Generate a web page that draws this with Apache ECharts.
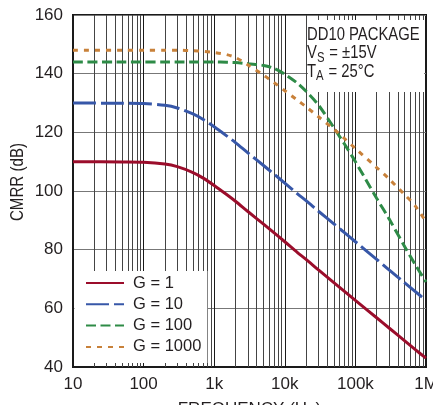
<!DOCTYPE html>
<html>
<head>
<meta charset="utf-8">
<script src="https://cdn.jsdelivr.net/npm/echarts@6/dist/echarts.min.js"></script>
<style>
html,body{margin:0;padding:0;background:#fff;}
#chart{width:433px;height:405px;}
</style>
</head>
<body>
<div id="chart"></div>
<script>
// ---- data ----
const freq = [10, 50, 100, 200, 300, 500, 700, 1000, 1500, 2000, 3000, 5000, 7000, 10000, 15000, 20000, 30000, 50000, 70000, 100000, 200000, 300000, 500000, 700000, 1000000];
const g1 =    [110, 109.9, 109.8, 109.2, 108.3, 106.3, 104.4, 101.9, 98.8, 96.5, 93.0, 88.7, 85.8, 82.7, 79.1, 76.7, 73.1, 68.7, 65.8, 62.7, 56.8, 53.3, 48.9, 46.0, 43.0];
const g10 =   [130, 129.9, 129.8, 129.2, 128.3, 126.3, 124.4, 121.9, 118.8, 116.5, 113.0, 108.7, 105.8, 102.7, 99.1, 96.7, 93.1, 88.7, 85.8, 82.7, 76.7, 73.1, 68.7, 65.8, 62.7];
const g100 =  [144, 144, 144, 144, 144, 144, 144, 144, 143.9, 143.8, 143.4, 142.8, 141.8, 139.8, 136.8, 134.0, 129.3, 121.4, 116.0, 110.0, 97.5, 90.5, 81.0, 75.0, 69.0];
const g1000 = [148, 148, 148, 148, 148, 147.8, 147.6, 147.2, 146.5, 145.5, 143.0, 139.5, 137.0, 134.2, 131.0, 128.7, 125.3, 121.0, 117.9, 114.5, 108.0, 104.1, 98.7, 95.0, 89.5];
const seriesNames = ['G = 1', 'G = 10', 'G = 100', 'G = 1000'];
const xTickLabels = ['10', '100', '1k', '10k', '100k', '1M'];
const yMin = 40, yMax = 160, yStep = 20;

// minor (2..9 per decade) vertical gridline positions
const minorGrid = [];
for (let e = 1; e < 6; e++) for (let d = 2; d <= 9; d++) minorGrid.push(d * Math.pow(10, e));

const FONT = "'Liberation Sans', Arial, sans-serif";
const TXT = '#231f20';
const colors = ['#9b0d2b', '#3757a8', '#2e8b47', '#c8813a'];
const dashes = ['solid', [23, 5], [10, 4.5], [5, 6]];
const vals = [g1, g10, g100, g1000];

const chart = echarts.init(document.getElementById('chart'), null, {renderer: 'canvas'});

const series = vals.map((v, i) => ({
  name: seriesNames[i],
  type: 'line',
  data: freq.map((f, k) => [f, v[k]]),
  smooth: 0.3,
  showSymbol: false,
  symbol: 'none',
  color: colors[i],
  lineStyle: {color: colors[i], width: 3, type: dashes[i], cap: 'butt'},
  z: 3 + i * 0.01,
  animation: false
}));
series[0].markLine = {
  silent: true,
  symbol: 'none',
  z: 1,
  animation: false,
  label: {show: false},
  emphasis: {disabled: true},
  lineStyle: {color: '#444', width: 1, type: 'solid'},
  data: minorGrid.map(v => ({xAxis: v}))
};

const subRich = {
  n: {fontFamily: FONT, fontSize: 19, lineHeight: 19, fill: TXT, color: TXT},
  s: {fontFamily: FONT, fontSize: 14.5, lineHeight: 10, padding: [9, 1, 0, 0], fill: TXT, color: TXT}
};

chart.setOption({
  animation: false,
  backgroundColor: '#fff',
  grid: {left: 73, right: 7, top: 15, bottom: 38, show: true, borderColor: '#1a1a1a', borderWidth: 2, outerBoundsMode: 'none', containLabel: false},
  xAxis: {
    type: 'log', logBase: 10, min: 10, max: 1000000,
    name: 'FREQUENCY (Hz)', nameLocation: 'middle', nameGap: 34,
    nameTextStyle: {fontFamily: FONT, fontSize: 17, color: TXT},
    axisLine: {show: true, lineStyle: {color: '#1a1a1a', width: 2}},
    axisTick: {show: false},
    axisLabel: {
      fontFamily: FONT, fontSize: 17, color: TXT, margin: 9, showMaxLabel: true, showMinLabel: true,
      formatter: v => xTickLabels[Math.round(Math.log10(v)) - 1]
    },
    splitLine: {show: true, lineStyle: {color: '#1a1a1a', width: 1}},
    minorTick: {show: false}
  },
  yAxis: {
    type: 'value', min: yMin, max: yMax, interval: yStep,
    axisLine: {show: true, lineStyle: {color: '#1a1a1a', width: 2}},
    axisTick: {show: false},
    axisLabel: {fontFamily: FONT, fontSize: 17, color: TXT, margin: 10},
    splitLine: {show: true, lineStyle: {color: '#777', width: 1}}
  },
  legend: {
    orient: 'vertical', left: 74.5, top: 271,
    backgroundColor: '#fff',
    padding: [3, 6, 7, 10.5],
    itemWidth: 38, itemHeight: 14, itemGap: 3.3,
    itemStyle: {opacity: 0, color: 'rgba(0,0,0,0)', borderWidth: 0, borderColor: 'rgba(0,0,0,0)'},
    textStyle: {fontFamily: FONT, fontSize: 16.5, color: TXT, lineHeight: 18, padding: [0, 0, 0, 4]},
    data: seriesNames,
    z: 6
  },
  graphic: [
    {type: 'rect', z: 10, silent: true, shape: {x: 308, y: 20, width: 116, height: 72}, style: {fill: '#fff'}},
    {type: 'text', z: 11, silent: true, x: 307, y: 25.2, scaleX: 0.78,
      style: {text: 'DD10 PACKAGE', fill: TXT, fontSize: 19, fontFamily: FONT, lineHeight: 19, verticalAlign: 'top', align: 'left'}},
    {type: 'text', z: 11, silent: true, x: 307, y: 43.5, scaleX: 0.78,
      style: {text: '{n|V}{s|S}{n| = ±15V}', fill: TXT, verticalAlign: 'top', align: 'left', rich: subRich}},
    {type: 'text', z: 11, silent: true, x: 307, y: 61.8, scaleX: 0.78,
      style: {text: '{n|T}{s|A}{n| = 25°C}', fill: TXT, verticalAlign: 'top', align: 'left', rich: subRich}},
    {type: 'text', z: 11, silent: true, x: 18.5, y: 182, rotation: Math.PI / 2, scaleX: 0.84,
      style: {text: 'CMRR (dB)', fill: TXT, fontFamily: FONT, fontSize: 18, align: 'center', verticalAlign: 'middle'}}
  ],
  series: series
});
</script>
</body>
</html>
